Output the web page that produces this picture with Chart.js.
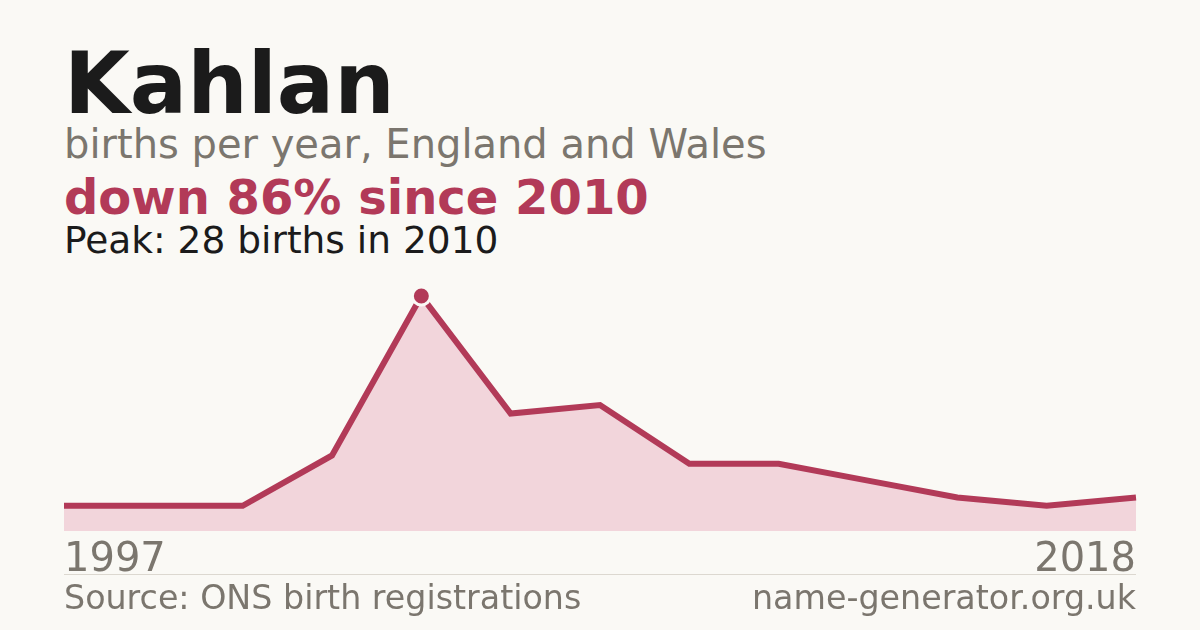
<!DOCTYPE html>
<html>
<head>
<meta charset="utf-8">
<script src="https://cdn.jsdelivr.net/npm/chart.js@4.4.0/dist/chart.umd.min.js"></script>
<style>
  html, body { margin: 0; padding: 0; }
  body { width: 1200px; height: 630px; background: #faf9f5; position: relative; overflow: hidden; font-family: "DejaVu Sans", sans-serif; }
  .t { position: absolute; left: 64px; line-height: 1; white-space: nowrap; margin: 0; }
  #title { top: 41px; font-size: 85px; font-weight: bold; color: #1b1b1b; }
  #sub { top: 124px; font-size: 40px; color: #7b766e; }
  #change { top: 173px; font-size: 48px; font-weight: bold; color: #b23a58; }
  #peak { top: 222px; font-size: 37.5px; color: #1b1b1b; }
  #wrap { position: absolute; left: 0; top: 280px; width: 1200px; height: 311px; }
  #sep { position: absolute; left: 64px; width: 1072px; top: 574px; height: 1px; background: #dcd8d0; }
  #src { top: 581px; font-size: 33.3px; color: #7b766e; }
  #site { position: absolute; right: 64px; top: 581px; font-size: 33.3px; color: #7b766e; line-height: 1; white-space: nowrap; }
</style>
</head>
<body>
<div class="t" id="title">Kahlan</div>
<div class="t" id="sub">births per year, England and Wales</div>
<div class="t" id="change">down 86% since 2010</div>
<div class="t" id="peak">Peak: 28 births in 2010</div>
<div id="wrap"><canvas id="c"></canvas></div>
<div id="sep"></div>
<div class="t" id="src">Source: ONS birth registrations</div>
<div id="site">name-generator.org.uk</div>
<script>
const years = ["1997", "2003", "2006", "2009", "2010", "2011", "2012", "2013", "2014", "2015", "2016", "2017", "2018"];
const births = [3, 3, 3, 9, 28, 14, 15, 8, 8, 6, 4, 3, 4];

const peakValue = Math.max(...births);
const lastIndex = years.length - 1;

new Chart(document.getElementById('c'), {
  type: 'line',
  data: {
    labels: years,
    datasets: [{
      data: births,
      borderColor: '#b23a58',
      borderWidth: 6,
      backgroundColor: '#f2d5db',
      fill: 'origin',
      tension: 0,
      clip: false,
      pointRadius: ctx => ctx.raw === peakValue ? 9 : 0,
      pointHoverRadius: 0,
      pointBackgroundColor: '#b23a58',
      pointBorderColor: '#faf9f5',
      pointBorderWidth: 3
    }]
  },
  options: {
    responsive: true,
    maintainAspectRatio: false,
    animation: false,
    events: [],
    layout: { padding: { left: 64, right: 64, top: 16, bottom: 0 } },
    plugins: { legend: { display: false }, tooltip: { enabled: false } },
    scales: {
      x: {
        offset: false,
        grid: { display: false, drawTicks: false },
        border: { display: false },
        ticks: {
          autoSkip: false,
          maxRotation: 0,
          align: 'inner',
          padding: 6,
          color: '#7b766e',
          font: { family: 'DejaVu Sans', size: 40 },
          callback: (v, i) => (i === 0 || i === lastIndex) ? years[i] : ''
        }
      },
      y: {
        display: false,
        min: 0,
        max: peakValue
      }
    }
  }
});
</script>
</body>
</html>
